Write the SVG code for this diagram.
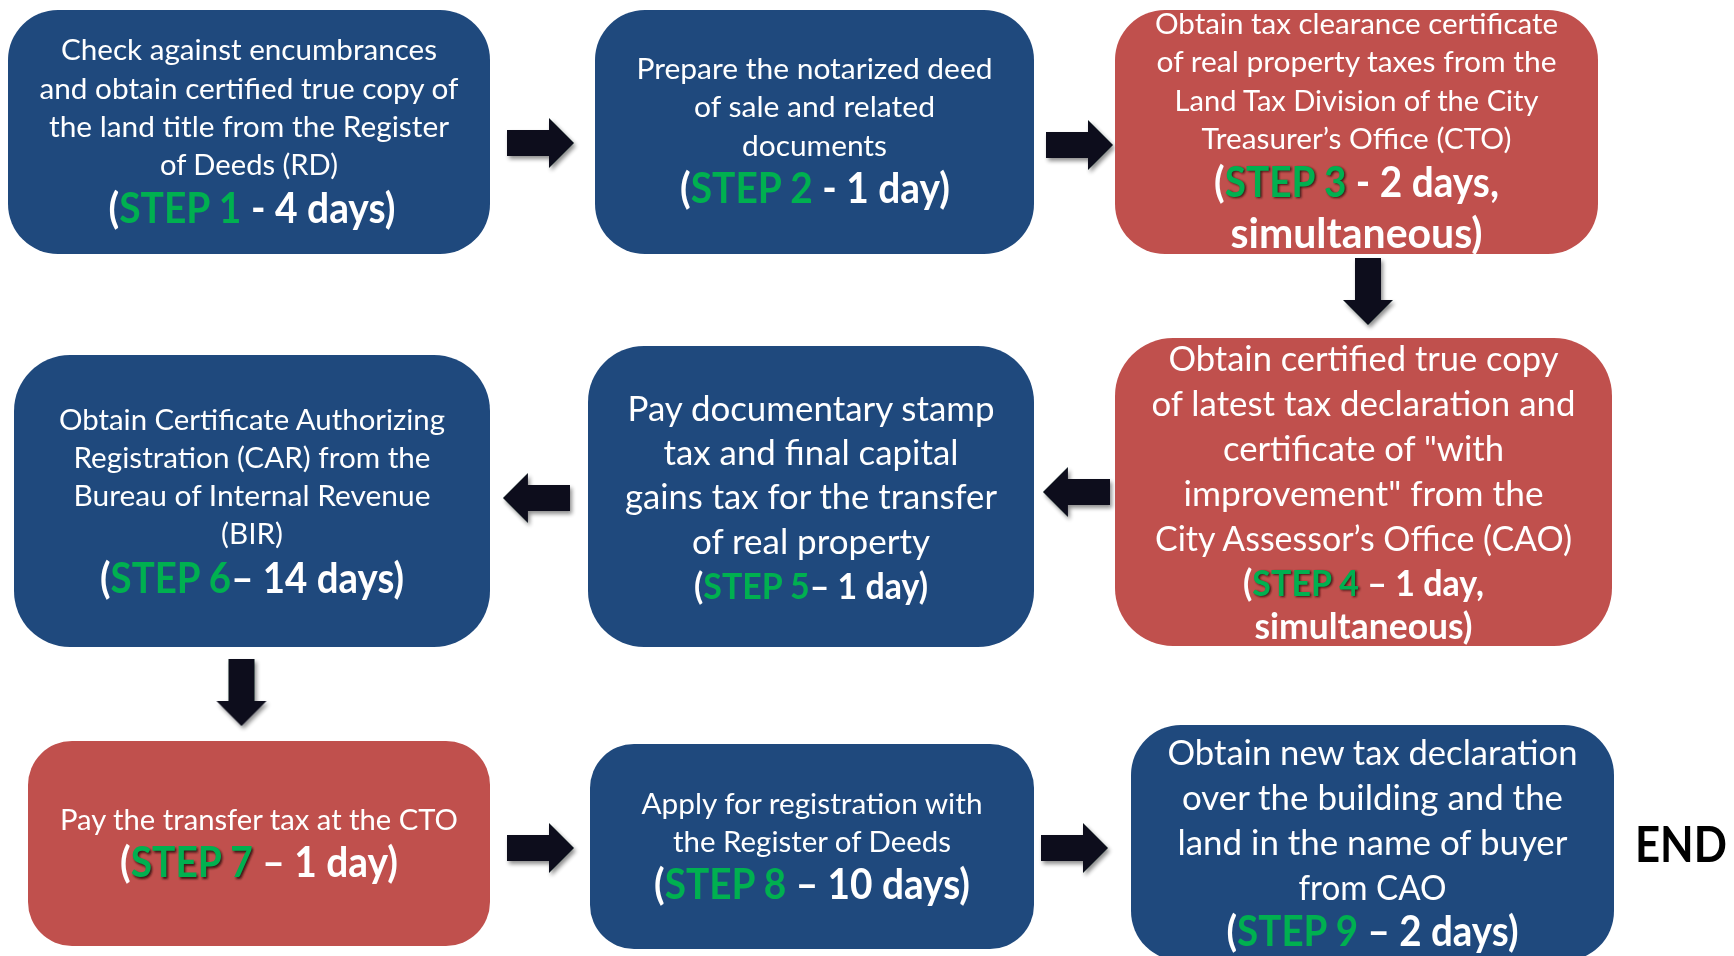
<svg xmlns="http://www.w3.org/2000/svg" xmlns:xlink="http://www.w3.org/1999/xlink" width="1734" height="956" viewBox="0 0 1734 956">
  <style>
    .blue { fill: #1F497D; }
    .red { fill: #C0504D; }
    .t { font-family: Lato, "Liberation Sans", sans-serif; fill: #FFFFFF; text-anchor: middle; }
    .r32 { font-size: 29.5px; }
    .r37 { font-size: 34.4px; }
    .b43 { font-size: 41.5px; font-weight: 700; }
    .b37 { font-size: 36.3px; font-weight: 700; }
    .g { fill: #00B050; }
    .sh { fill: #3A1512; }
    .none { fill-opacity: 0; }
    .arrow { fill: #0B111C; }
    .end { font-family: Lato, "Liberation Sans", sans-serif; font-size: 50px; font-weight: 700; fill: #000000; text-anchor: middle; }
  </style>
  <defs>
    <filter id="ashadow" x="-20%" y="-20%" width="140%" height="140%">
      <feGaussianBlur in="SourceAlpha" stdDeviation="2"/>
      <feOffset dx="2" dy="3" result="b"/>
      <feComponentTransfer><feFuncA type="linear" slope="0.45"/></feComponentTransfer>
      <feMerge><feMergeNode/><feMergeNode in="SourceGraphic"/></feMerge>
    </filter>
    <filter id="tshadow" x="-5%" y="-20%" width="110%" height="140%">
      <feGaussianBlur stdDeviation="0.8"/>
    </filter>
    <!-- block arrow, tail at origin, pointing along +x -->
    <path id="arr" class="arrow" d="M0,-13 H42 V-25 L67,0 L42,25 V13 H0 Z"/>
  </defs>

  <rect width="1734" height="956" fill="#FFFFFF"/>

  <!-- connectors -->
  <g id="connectors" filter="url(#ashadow)">
    <use xlink:href="#arr" transform="translate(507,143)"/>
    <use xlink:href="#arr" transform="translate(1046,145)"/>
    <use xlink:href="#arr" transform="translate(1368,258) rotate(90)"/>
    <use xlink:href="#arr" transform="translate(1110,492) rotate(180)"/>
    <use xlink:href="#arr" transform="translate(570,498) rotate(180)"/>
    <use xlink:href="#arr" transform="translate(241.5,659) rotate(90)"/>
    <use xlink:href="#arr" transform="translate(507,848)"/>
    <use xlink:href="#arr" transform="translate(1041,848)"/>
  </g>

  <g id="step1">
    <rect class="blue" x="8" y="10" width="482" height="244" rx="50"/>
    <text class="t r32" x="249" y="60" textLength="376" lengthAdjust="spacingAndGlyphs">Check against encumbrances</text>
    <text class="t r32" x="249" y="98.5" textLength="419" lengthAdjust="spacingAndGlyphs">and obtain certified true copy of</text>
    <text class="t r32" x="249" y="137" textLength="400" lengthAdjust="spacingAndGlyphs">the land title from the Register</text>
    <text class="t r32" x="249" y="175" textLength="178" lengthAdjust="spacingAndGlyphs">of Deeds (RD)</text>
    <text class="t b43" x="252" y="223" textLength="287" lengthAdjust="spacingAndGlyphs">(<tspan class="g">STEP 1</tspan> - 4 days)</text>
  </g>

  <g id="step2">
    <rect class="blue" x="595" y="10" width="439" height="244" rx="50"/>
    <text class="t r32" x="814.5" y="79" textLength="356" lengthAdjust="spacingAndGlyphs">Prepare the notarized deed</text>
    <text class="t r32" x="814.5" y="117" textLength="241" lengthAdjust="spacingAndGlyphs">of sale and related</text>
    <text class="t r32" x="814.5" y="156" textLength="145" lengthAdjust="spacingAndGlyphs">documents</text>
    <text class="t b43" x="815" y="203" textLength="270" lengthAdjust="spacingAndGlyphs">(<tspan class="g">STEP 2</tspan> - 1 day)</text>
  </g>

  <g id="step3">
    <rect class="red" x="1115" y="10" width="483" height="244" rx="50"/>
    <text class="t r32" x="1356.5" y="33.5" textLength="403" lengthAdjust="spacingAndGlyphs">Obtain tax clearance certificate</text>
    <text class="t r32" x="1356.5" y="72" textLength="400" lengthAdjust="spacingAndGlyphs">of real property taxes from the</text>
    <text class="t r32" x="1356.5" y="111" textLength="364" lengthAdjust="spacingAndGlyphs">Land Tax Division of the City</text>
    <text class="t r32" x="1356.5" y="149" textLength="310" lengthAdjust="spacingAndGlyphs">Treasurer’s Office (CTO)</text>
    <text class="t b43" x="1358" y="198" textLength="285" lengthAdjust="spacingAndGlyphs" filter="url(#tshadow)"><tspan class="none">(</tspan><tspan class="sh">STEP 3</tspan><tspan class="none"> - 2 days,</tspan></text>
    <text class="t b43" x="1356.5" y="196.5" textLength="285" lengthAdjust="spacingAndGlyphs">(<tspan class="g">STEP 3</tspan> - 2 days,</text>
    <text class="t b43" x="1356.5" y="247.5" textLength="252" lengthAdjust="spacingAndGlyphs">simultaneous)</text>
  </g>

  <g id="step4">
    <rect class="red" x="1115" y="338" width="497" height="308" rx="58"/>
    <text class="t r37" x="1363.5" y="370.5" textLength="390" lengthAdjust="spacingAndGlyphs">Obtain certified true copy</text>
    <text class="t r37" x="1363.5" y="416" textLength="424" lengthAdjust="spacingAndGlyphs">of latest tax declaration and</text>
    <text class="t r37" x="1363.5" y="460.5" textLength="281" lengthAdjust="spacingAndGlyphs">certificate of "with</text>
    <text class="t r37" x="1363.5" y="505.5" textLength="360" lengthAdjust="spacingAndGlyphs">improvement"  from the</text>
    <text class="t r37" x="1363.5" y="550.5" textLength="417" lengthAdjust="spacingAndGlyphs">City Assessor’s Office (CAO)</text>
    <text class="t b37" x="1365" y="597" textLength="241" lengthAdjust="spacingAndGlyphs" filter="url(#tshadow)"><tspan class="none">(</tspan><tspan class="sh">STEP 4</tspan><tspan class="none"> – 1 day,</tspan></text>
    <text class="t b37" x="1363.5" y="595.5" textLength="241" lengthAdjust="spacingAndGlyphs">(<tspan class="g">STEP 4</tspan> – 1 day,</text>
    <text class="t b37" x="1363.5" y="639" textLength="218" lengthAdjust="spacingAndGlyphs">simultaneous)</text>
  </g>

  <g id="step5">
    <rect class="blue" x="588" y="346" width="446" height="301" rx="56"/>
    <text class="t r37" x="811" y="420.5" textLength="367" lengthAdjust="spacingAndGlyphs">Pay documentary stamp</text>
    <text class="t r37" x="811" y="464.5" textLength="295" lengthAdjust="spacingAndGlyphs">tax and final capital</text>
    <text class="t r37" x="811" y="509" textLength="372" lengthAdjust="spacingAndGlyphs">gains tax for the transfer</text>
    <text class="t r37" x="811" y="553.5" textLength="238" lengthAdjust="spacingAndGlyphs">of real property</text>
    <text class="t b37" x="811" y="598.5" textLength="234" lengthAdjust="spacingAndGlyphs">(<tspan class="g">STEP 5</tspan>– 1 day)</text>
  </g>

  <g id="step6">
    <rect class="blue" x="14" y="355" width="476" height="292" rx="56"/>
    <text class="t r32" x="252" y="430" textLength="386" lengthAdjust="spacingAndGlyphs">Obtain Certificate Authorizing</text>
    <text class="t r32" x="252" y="468" textLength="357" lengthAdjust="spacingAndGlyphs">Registration (CAR) from the</text>
    <text class="t r32" x="252" y="505.5" textLength="357" lengthAdjust="spacingAndGlyphs">Bureau of Internal Revenue</text>
    <text class="t r32" x="252" y="544" textLength="62" lengthAdjust="spacingAndGlyphs">(BIR)</text>
    <text class="t b43" x="252" y="592.5" textLength="304" lengthAdjust="spacingAndGlyphs">(<tspan class="g">STEP 6</tspan>– 14 days)</text>
  </g>

  <g id="step7">
    <rect class="red" x="28" y="741" width="462" height="205" rx="44"/>
    <text class="t r32" x="259" y="830" textLength="398" lengthAdjust="spacingAndGlyphs">Pay the transfer tax at the CTO</text>
    <text class="t b43" x="260.5" y="878.5" textLength="278" lengthAdjust="spacingAndGlyphs" filter="url(#tshadow)"><tspan class="none">(</tspan><tspan class="sh">STEP 7</tspan><tspan class="none"> – 1 day)</tspan></text>
    <text class="t b43" x="259" y="877" textLength="278" lengthAdjust="spacingAndGlyphs">(<tspan class="g">STEP 7</tspan> – 1 day)</text>
  </g>

  <g id="step8">
    <rect class="blue" x="590" y="744" width="444" height="205" rx="44"/>
    <text class="t r32" x="812" y="813.5" textLength="341" lengthAdjust="spacingAndGlyphs">Apply for registration with</text>
    <text class="t r32" x="812" y="852" textLength="278" lengthAdjust="spacingAndGlyphs">the Register of Deeds</text>
    <text class="t b43" x="812" y="899" textLength="316" lengthAdjust="spacingAndGlyphs">(<tspan class="g">STEP 8</tspan> – 10 days)</text>
  </g>

  <g id="step9">
    <rect class="blue" x="1131" y="725" width="483" height="236" rx="50"/>
    <text class="t r37" x="1372.5" y="765" textLength="410" lengthAdjust="spacingAndGlyphs">Obtain new tax declaration</text>
    <text class="t r37" x="1372.5" y="810" textLength="381" lengthAdjust="spacingAndGlyphs">over the building and the</text>
    <text class="t r37" x="1372.5" y="855" textLength="390" lengthAdjust="spacingAndGlyphs">land in the name of buyer</text>
    <text class="t r37" x="1372.5" y="899.5" textLength="148" lengthAdjust="spacingAndGlyphs">from CAO</text>
    <text class="t b43" x="1372.5" y="946" textLength="292" lengthAdjust="spacingAndGlyphs">(<tspan class="g">STEP 9</tspan> – 2 days)</text>
  </g>

  <g id="end">
    <text class="end" x="1681" y="862" textLength="92" lengthAdjust="spacingAndGlyphs">END</text>
  </g>
</svg>
